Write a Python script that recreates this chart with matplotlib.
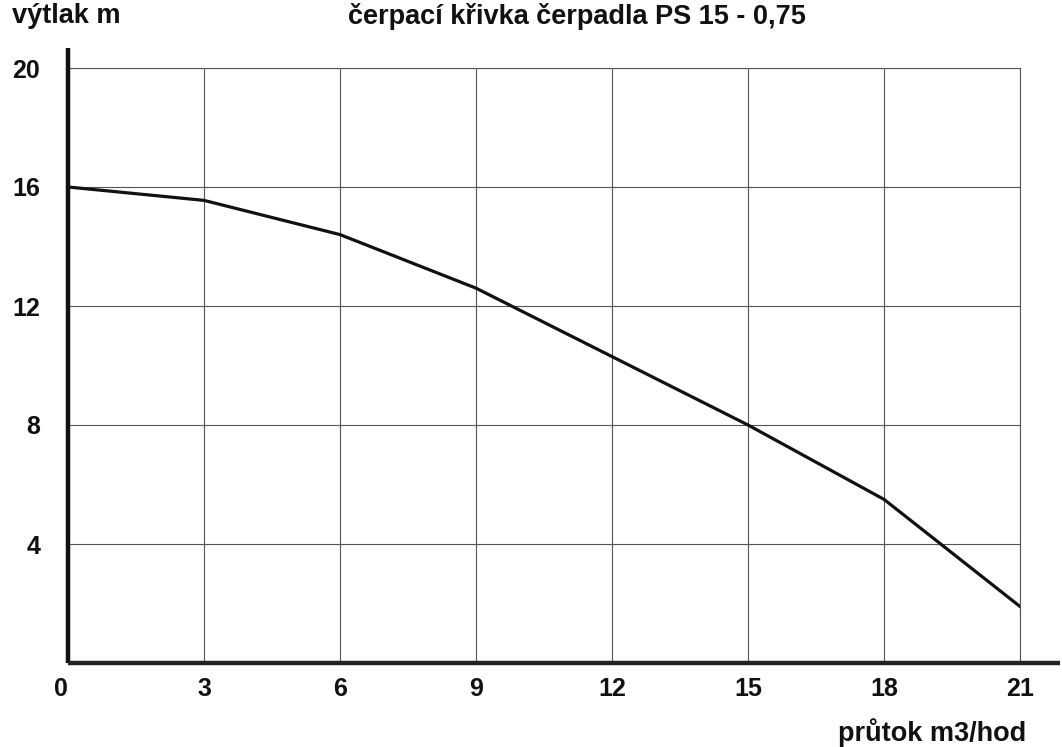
import matplotlib
matplotlib.use("Agg")
import matplotlib.pyplot as plt

# data
flow = [0, 3, 6, 9, 12, 15, 18, 21]
head = [16.0, 15.55, 14.4, 12.6, 10.3, 8.0, 5.5, 1.9]
xticks = [0, 3, 6, 9, 12, 15, 18, 21]
yticks = [4, 8, 12, 16, 20]

plt.rcParams['font.family'] = ['Liberation Sans', 'DejaVu Sans']
plt.rcParams['font.weight'] = 'bold'

W, H = 1062, 747
fig = plt.figure(figsize=(W / 100, H / 100), dpi=100)
L, R, T, B = 68, 1020, 68, 663
ax = fig.add_axes([L / W, 1 - B / H, (R - L) / W, (B - T) / H])

ax.plot(flow, head, color='#111111', lw=2.3, solid_joinstyle='round', zorder=3)

ax.set_xlim(0, 21)
ax.set_ylim(0, 20)
ax.set_xticks(xticks)
ax.set_yticks(yticks)
ax.set_xticklabels([str(v) for v in xticks], fontsize=18, fontweight='bold', color='#111111')
ax.set_yticklabels([str(v) for v in yticks], fontsize=18, fontweight='bold', color='#111111')
ax.tick_params(length=0)
ax.tick_params(axis='x', pad=10)
ax.tick_params(axis='y', pad=20)
ax.get_xticklabels()[0].set_horizontalalignment('right')
ax.grid(True, color='#555555', lw=0.8)

for s in ['top', 'right']:
    ax.spines[s].set_color('#555555')
    ax.spines[s].set_linewidth(0.8)
for s in ['left', 'bottom']:
    ax.spines[s].set_visible(False)

# thick axis lines extending past the grid
ax.plot([0, 0], [0, 1 + 20 / (B - T)], transform=ax.transAxes, color='#111111',
        lw=3.2, clip_on=False, solid_capstyle='butt', zorder=4)
ax.plot([0, (1060 - L) / (R - L)], [0, 0], transform=ax.transAxes, color='#222222',
        lw=3.2, clip_on=False, solid_capstyle='butt', zorder=4)

fig.text(12 / W, 1 - 16 / H, 'výtlak m', fontsize=19.5, fontweight='bold', va='center',
         ha='left', color='#111111')
fig.text(577 / W, 1 - 16 / H, 'čerpací křivka čerpadla PS 15 - 0,75', fontsize=19.5,
         fontweight='bold', va='center', ha='center', color='#111111')
fig.text(1026 / W, 1 - 733 / H, 'průtok m3/hod', fontsize=19.5, fontweight='bold',
         va='center', ha='right', color='#111111')

fig.savefig('out.png', dpi=100)
